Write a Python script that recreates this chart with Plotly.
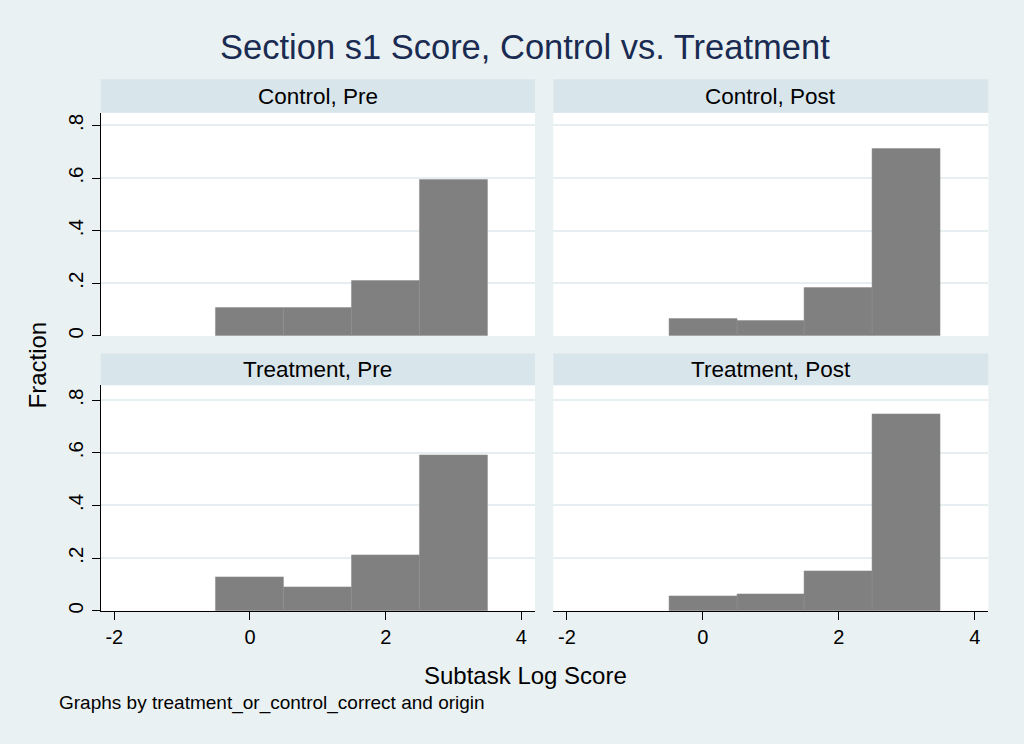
import plotly.graph_objects as go

# ---------------- data ----------------
bin_centers = [0, 1, 2, 3]
bin_width = 1
control_pre = [0.105, 0.105, 0.209, 0.595]
control_post = [0.064, 0.058, 0.183, 0.711]
treatment_pre = [0.128, 0.091, 0.213, 0.591]
treatment_post = [0.057, 0.062, 0.149, 0.748]

panel_titles = ["Control, Pre", "Control, Post", "Treatment, Pre", "Treatment, Post"]
x_tick_vals = [-2, 0, 2, 4]
x_tick_text = ["-2", "0", "2", "4"]
y_tick_vals = [0, 0.2, 0.4, 0.6, 0.8]
y_tick_text = ["0", ".2", ".4", ".6", ".8"]

title_text = "Section s1 Score, Control vs. Treatment"
x_title = "Subtask Log Score"
y_title = "Fraction"
note_text = "Graphs by treatment_or_control_correct and origin"

# ---------------- layout helpers ----------------
W, H = 1024, 744
FONT = "Liberation Sans, Arial, Helvetica, sans-serif"
BG = "#eaf1f3"
STRIP = "#d8e5eb"
GRID = "#e6eef1"
BAR = "#808080"


def px(x):
    return x / W


def py(y):
    return 1 - y / H


left_x = [px(100.7), px(535)]
right_x = [px(553.3), px(988.3)]
top_y = [py(337.3), py(113.3)]
bot_y = [py(613.3), py(386.7)]
top_strip = [py(113.3), py(79.5)]
bot_strip = [py(386.7), py(355)]

panels = [
    (control_pre, left_x, top_y, top_strip, True, False, [0, 0.848]),
    (control_post, right_x, top_y, top_strip, False, False, [0, 0.848]),
    (treatment_pre, left_x, bot_y, bot_strip, True, True, [0, 0.857]),
    (treatment_post, right_x, bot_y, bot_strip, False, True, [0, 0.857]),
]

fig = go.Figure()
shapes = []
annotations = []
layout_axes = {}

for i, (vals, xd, yd, sd, show_y, show_x, yr) in enumerate(panels):
    n = "" if i == 0 else str(i + 1)
    fig.add_trace(
        go.Bar(
            x=bin_centers,
            y=vals,
            width=bin_width,
            marker=dict(color=BAR, line=dict(color="#8a8a8a", width=0.5)),
            xaxis="x" + n,
            yaxis="y" + n,
            showlegend=False,
            hoverinfo="x+y",
        )
    )
    layout_axes["xaxis" + n] = dict(
        domain=xd,
        anchor="y" + n,
        range=[-2.2, 4.2],
        tickmode="array",
        tickvals=x_tick_vals,
        ticktext=x_tick_text,
        showticklabels=show_x,
        ticks="outside" if show_x else "",
        ticklen=8,
        tickwidth=1.3,
        tickcolor="#000000",
        showline=show_x,
        linecolor="#000000",
        linewidth=1.3,
        showgrid=False,
        zeroline=False,
        tickfont=dict(family=FONT, size=20, color="#000000"),
    )
    layout_axes["yaxis" + n] = dict(
        domain=yd,
        anchor="x" + n,
        range=yr,
        tickmode="array",
        tickvals=y_tick_vals,
        ticktext=y_tick_text,
        showticklabels=show_y,
        ticks="outside" if show_y else "",
        ticklen=8,
        tickwidth=1.3,
        tickcolor="#000000",
        tickangle=-90,
        showline=show_y,
        linecolor="#000000",
        linewidth=1.3,
        showgrid=True,
        gridcolor=GRID,
        gridwidth=1.5,
        zeroline=False,
        tickfont=dict(family=FONT, size=20.5, color="#000000"),
    )
    shapes.append(
        dict(
            type="rect",
            xref="paper",
            yref="paper",
            x0=xd[0],
            x1=xd[1],
            y0=sd[0],
            y1=sd[1],
            fillcolor=STRIP,
            line=dict(width=0),
            layer="below",
        )
    )
    annotations.append(
        dict(
            text=panel_titles[i],
            xref="paper",
            yref="paper",
            x=(xd[0] + xd[1]) / 2,
            y=(sd[0] + sd[1]) / 2,
            xanchor="center",
            yanchor="middle",
            showarrow=False,
            font=dict(family=FONT, size=22.5, color="#000000"),
        )
    )

annotations.append(
    dict(
        text=title_text,
        xref="paper",
        yref="paper",
        x=px(525),
        y=py(47),
        xanchor="center",
        yanchor="middle",
        showarrow=False,
        font=dict(family=FONT, size=34.5, color="#1a2b52"),
    )
)
annotations.append(
    dict(
        text=x_title,
        xref="paper",
        yref="paper",
        x=px(525),
        y=py(678),
        xanchor="center",
        yanchor="middle",
        showarrow=False,
        font=dict(family=FONT, size=24, color="#000000"),
    )
)
annotations.append(
    dict(
        text=y_title,
        xref="paper",
        yref="paper",
        x=px(38),
        y=py(367),
        xanchor="center",
        yanchor="middle",
        textangle=-90,
        showarrow=False,
        font=dict(family=FONT, size=24, color="#000000"),
    )
)
annotations.append(
    dict(
        text=note_text,
        xref="paper",
        yref="paper",
        x=px(57),
        y=py(706),
        xanchor="left",
        yanchor="middle",
        showarrow=False,
        font=dict(family=FONT, size=19, color="#000000"),
    )
)

fig.update_layout(
    width=W,
    height=H,
    margin=dict(l=0, r=0, t=0, b=0),
    paper_bgcolor=BG,
    plot_bgcolor="#ffffff",
    bargap=0,
    shapes=shapes,
    annotations=annotations,
    **layout_axes,
)

fig.write_html(
    "out.html",
    config={"displayModeBar": False},
    post_script="document.body.style.margin='0';document.body.style.overflow='hidden';",
)
